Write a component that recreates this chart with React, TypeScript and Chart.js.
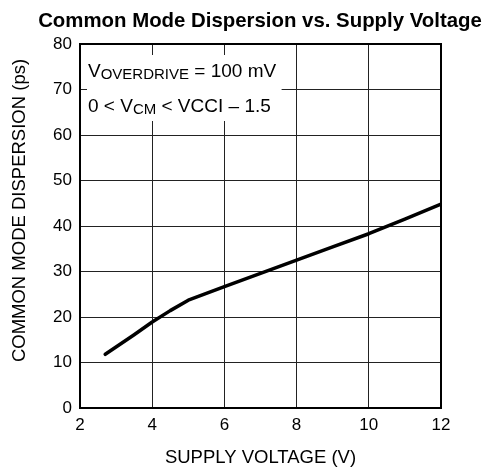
import { useEffect, useRef } from 'react';
import { Chart, registerables } from 'chart.js';

Chart.register(...registerables);

const supplyVoltage = [2.7, 3.5, 4, 4.5, 5, 6, 7, 8, 9, 10, 11, 12];
const dispersion = [11.8, 16.1, 18.9, 21.4, 23.7, 26.7, 29.6, 32.5, 35.4, 38.3, 41.5, 44.8];
const xTickValues = [2, 4, 6, 8, 10, 12];
const yTickValues = [0, 10, 20, 30, 40, 50, 60, 70, 80];
const chartTitle = 'Common Mode Dispersion vs. Supply Voltage';
const xAxisTitle = 'SUPPLY VOLTAGE (V)';
const yAxisTitle = 'COMMON MODE DISPERSION (ps)';
const noteLine1: [string, boolean][] = [['V', false], ['OVERDRIVE', true], [' = 100 mV', false]];
const noteLine2: [string, boolean][] = [['0 < V', false], ['CM', true], [' < VCCI – 1.5', false]];

const FONT = '"Liberation Sans", Arial, Helvetica, sans-serif';

const overlayPlugin = {
  id: 'overlay',
  beforeDatasetsDraw(chart: any) {
    const { ctx, chartArea, scales } = chart;
    const xs = scales.x;
    const ys = scales.y;
    // annotation box (blanks the grid behind the note)
    const bx0 = chartArea.left + 7;
    const bx1 = xs.getPixelForValue(8) - 15;
    const by0 = chartArea.top + 11;
    const by1 = ys.getPixelForValue(60) - 14;
    ctx.save();
    ctx.fillStyle = '#ffffff';
    ctx.fillRect(bx0, by0, bx1 - bx0, by1 - by0);
    ctx.fillStyle = '#000';
    ctx.textBaseline = 'alphabetic';
    ctx.textAlign = 'left';
    const drawRuns = (runs: [string, boolean][], x: number, y: number) => {
      let cx = x;
      for (const [t, sub] of runs) {
        ctx.font = sub ? `15px ${FONT}` : `19px ${FONT}`;
        ctx.fillText(t, cx, y + (sub ? 2 : 0));
        cx += ctx.measureText(t).width;
      }
    };
    drawRuns(noteLine1, chartArea.left + 8, chartArea.top + 33);
    drawRuns(noteLine2, chartArea.left + 8, chartArea.top + 68);
    ctx.restore();
  },
  afterDraw(chart: any) {
    const { ctx, chartArea } = chart;
    ctx.save();
    ctx.strokeStyle = '#000';
    ctx.lineWidth = 2;
    ctx.strokeRect(chartArea.left, chartArea.top, chartArea.right - chartArea.left, chartArea.bottom - chartArea.top);
    ctx.fillStyle = '#000';
    // chart title
    ctx.font = `bold 20.4px ${FONT}`;
    ctx.textAlign = 'center';
    ctx.textBaseline = 'alphabetic';
    ctx.fillText(chartTitle, 260, 27);
    // x title
    ctx.font = `18.5px ${FONT}`;
    ctx.fillText(xAxisTitle, (chartArea.left + chartArea.right) / 2, 463);
    // y title
    ctx.translate(25, 210.5);
    ctx.rotate(-Math.PI / 2);
    ctx.fillText(yAxisTitle, 0, 0);
    ctx.restore();
  },
};

export default function App() {
  const ref = useRef<HTMLCanvasElement>(null);
  useEffect(() => {
    if (!ref.current) return;
    const chart = new Chart(ref.current, {
      type: 'line',
      data: {
        datasets: [
          {
            data: supplyVoltage.map((v, i) => ({ x: v, y: dispersion[i] })),
            borderColor: '#000',
            borderWidth: 3.5,
            pointRadius: 0,
            tension: 0,
            borderCapStyle: 'round',
            borderJoinStyle: 'round',
          },
        ],
      },
      options: {
        animation: false,
        responsive: false,
        devicePixelRatio: 1,
        layout: { padding: { left: 0, top: 44, right: 48, bottom: 0 } },
        plugins: { legend: { display: false }, title: { display: false }, tooltip: { enabled: false } },
        scales: {
          x: {
            type: 'linear',
            min: 2,
            max: 12,
            afterBuildTicks: (s: any) => {
              s.ticks = xTickValues.map((v) => ({ value: v }));
            },
            afterFit: (s: any) => {
              s.height = 60;
            },
            grid: { color: '#222', lineWidth: 1, drawTicks: false },
            border: { display: true, color: '#000', width: 2 },
            ticks: { color: '#000', padding: 7, font: { family: FONT, size: 17 }, maxRotation: 0 },
          },
          y: {
            type: 'linear',
            min: 0,
            max: 80,
            afterBuildTicks: (s: any) => {
              s.ticks = yTickValues.map((v) => ({ value: v }));
            },
            afterFit: (s: any) => {
              s.width = 80;
            },
            grid: { color: '#222', lineWidth: 1, drawTicks: false },
            border: { display: true, color: '#000', width: 2 },
            ticks: { color: '#000', padding: 8, font: { family: FONT, size: 17 } },
          },
        },
      },
      plugins: [overlayPlugin],
    } as any);
    return () => chart.destroy();
  }, []);
  return (
    <div style={{ position: 'fixed', left: 0, top: 0, width: 489, height: 468, background: '#fff' }}>
      <canvas ref={ref} width={489} height={468} style={{ display: 'block' }} />
    </div>
  );
}
